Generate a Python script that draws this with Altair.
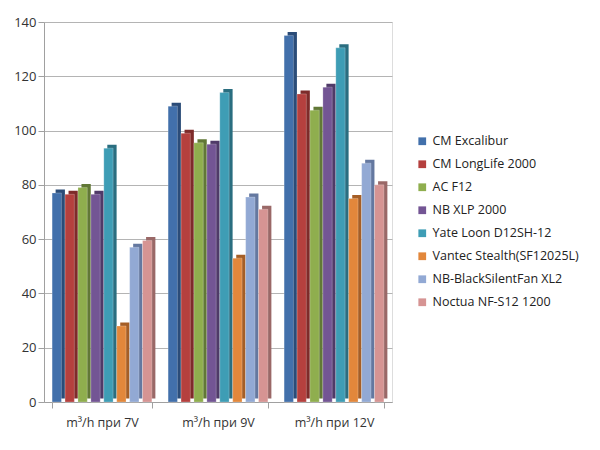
import altair as alt
import pandas as pd

categories = ["m³/h при 7V", "m³/h при 9V", "m³/h при 12V"]
series = ["CM Excalibur", "CM LongLife 2000", "AC F12", "NB XLP 2000",
          "Yate Loon D12SH-12", "Vantec Stealth(SF12025L)",
          "NB-BlackSilentFan XL2", "Noctua NF-S12 1200"]
values = {
    "CM Excalibur":             [77, 109, 135],
    "CM LongLife 2000":         [76.5, 99, 113.5],
    "AC F12":                   [79, 95.5, 107.5],
    "NB XLP 2000":              [76.5, 95, 116],
    "Yate Loon D12SH-12":       [93.5, 114, 130.5],
    "Vantec Stealth(SF12025L)": [28, 53, 75],
    "NB-BlackSilentFan XL2":    [57, 75.5, 88],
    "Noctua NF-S12 1200":       [59.5, 71, 80],
}
colors = ["#4270AB", "#B5403E", "#8FAE4E", "#735594",
          "#3E9DB5", "#E2873B", "#92A9D4", "#D69493"]
dark_colors = ["#2B4C78", "#7E2B2A", "#617836", "#4F3A68",
               "#2A6E80", "#A55E26", "#6478A0", "#9A6867"]

rows = []
for s, c, d in zip(series, colors, dark_colors):
    for cat, v in zip(categories, values[s]):
        rows.append({"cat": cat, "series": s, "value": v, "dark": d})
df = pd.DataFrame(rows)

font = "Open Sans"
W = 348
band = W / 3 * 0.86
depth = 3.5

x_enc = alt.X("cat:N", sort=categories, title=None,
              scale=alt.Scale(paddingInner=0.14, paddingOuter=0.07),
              axis=alt.Axis(labelAngle=0, tickBand="extent", labelFontSize=12.5,
                            labelFont=font, labelColor="#333333", labelPadding=8,
                            domainColor="#a0a0a0", tickColor="#a0a0a0", tickSize=6,
                            grid=False))
y_enc = alt.Y("value:Q", title=None,
              scale=alt.Scale(domain=[0, 140]),
              axis=alt.Axis(values=list(range(0, 141, 20)), labelFontSize=13,
                            labelFont=font, labelColor="#333333",
                            domainColor="#a0a0a0", tickColor="#a0a0a0", tickSize=6,
                            gridColor="#b4b4b4", gridWidth=1))

back = alt.Chart(df).mark_bar(yOffset=-depth).encode(
    x=x_enc,
    xOffset=alt.XOffset("series:N", sort=series,
                        scale=alt.Scale(paddingInner=0.28, paddingOuter=0,
                                        range=[depth, band + depth])),
    y=y_enc,
    color=alt.Color("dark:N", scale=None),
)

front = alt.Chart(df).mark_bar(stroke="#ffffff", strokeWidth=0.6, strokeOpacity=0.4).encode(
    x=x_enc,
    xOffset=alt.XOffset("series:N", sort=series,
                        scale=alt.Scale(paddingInner=0.28, paddingOuter=0,
                                        range=[0, band])),
    y=y_enc,
    color=alt.Color("series:N", sort=series,
                    scale=alt.Scale(domain=series, range=colors),
                    legend=alt.Legend(title=None, orient="none", legendX=372, legendY=113,
                                      symbolType="square", symbolSize=60,
                                      symbolStrokeWidth=0, labelFont=font,
                                      labelFontSize=12.5, labelColor="#222222",
                                      rowPadding=10, labelOffset=4)),
)

chart = alt.layer(back, front).resolve_scale(xOffset="independent").properties(
    width=W, height=380, padding={"left": 5, "top": 8, "right": 5, "bottom": 5}
).configure_view(stroke=None).configure(background="white")

chart.save("out.html", embed_options={"renderer": "svg", "actions": False})
